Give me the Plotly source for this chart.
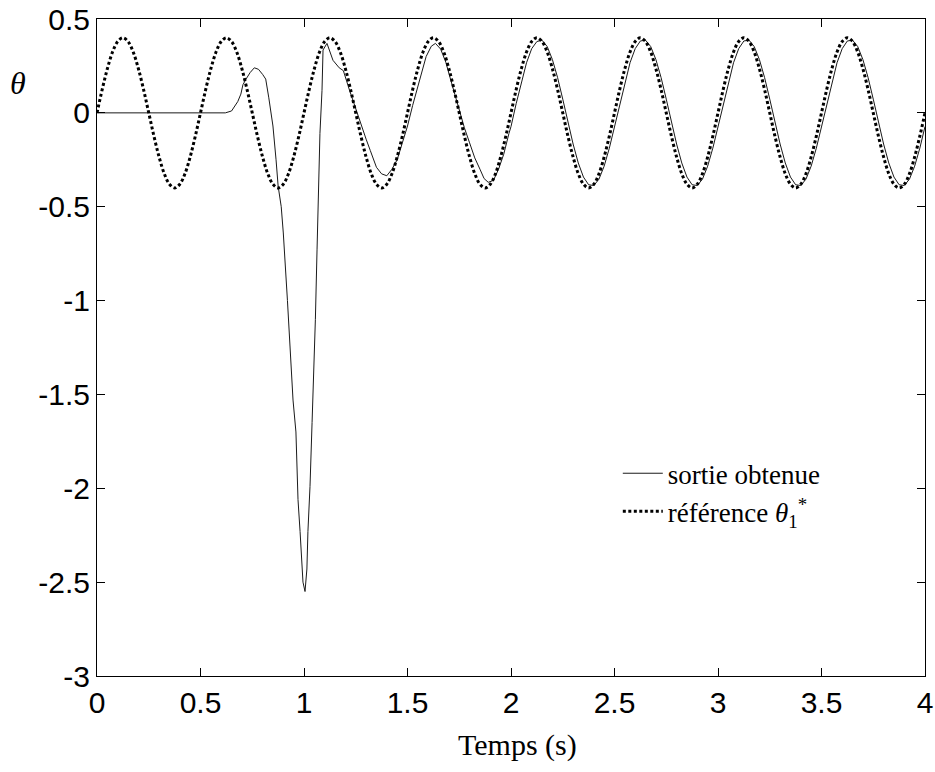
import plotly.graph_objects as go

t_ref = [round(i * 0.025, 3) for i in range(161)]
theta_ref = [
    0.000, 0.124, 0.235, 0.324, 0.380, 0.400, 0.380, 0.324, 0.235, 0.124,
    0.000, -0.124, -0.235, -0.324, -0.380, -0.400, -0.380, -0.324, -0.235, -0.124,
    0.000, 0.124, 0.235, 0.324, 0.380, 0.400, 0.380, 0.324, 0.235, 0.124,
    0.000, -0.124, -0.235, -0.324, -0.380, -0.400, -0.380, -0.324, -0.235, -0.124,
    0.000, 0.124, 0.235, 0.324, 0.380, 0.400, 0.380, 0.324, 0.235, 0.124,
    0.000, -0.124, -0.235, -0.324, -0.380, -0.400, -0.380, -0.324, -0.235, -0.124,
    0.000, 0.124, 0.235, 0.324, 0.380, 0.400, 0.380, 0.324, 0.235, 0.124,
    0.000, -0.124, -0.235, -0.324, -0.380, -0.400, -0.380, -0.324, -0.235, -0.124,
    0.000, 0.124, 0.235, 0.324, 0.380, 0.400, 0.380, 0.324, 0.235, 0.124,
    0.000, -0.124, -0.235, -0.324, -0.380, -0.400, -0.380, -0.324, -0.235, -0.124,
    0.000, 0.124, 0.235, 0.324, 0.380, 0.400, 0.380, 0.324, 0.235, 0.124,
    0.000, -0.124, -0.235, -0.324, -0.380, -0.400, -0.380, -0.324, -0.235, -0.124,
    0.000, 0.124, 0.235, 0.324, 0.380, 0.400, 0.380, 0.324, 0.235, 0.124,
    0.000, -0.124, -0.235, -0.324, -0.380, -0.400, -0.380, -0.324, -0.235, -0.124,
    0.000, 0.124, 0.235, 0.324, 0.380, 0.400, 0.380, 0.324, 0.235, 0.124,
    0.000, -0.124, -0.235, -0.324, -0.380, -0.400, -0.380, -0.324, -0.235, -0.124,
    0.000,
]

# Obtained output
t_out = [
    0.000, 0.620, 0.650, 0.680, 0.695, 0.705, 0.720, 0.740, 0.760, 0.780,
    0.800, 0.815, 0.830, 0.850, 0.865, 0.875, 0.890, 0.900, 0.920, 0.947,
    0.961, 0.971, 0.981, 0.990, 0.995, 1.005, 1.010, 1.014, 1.019, 1.029,
    1.039, 1.043, 1.055, 1.063, 1.068, 1.077, 1.087, 1.092, 1.111, 1.140,
    1.170, 1.190, 1.220, 1.250, 1.270, 1.300, 1.320, 1.350, 1.375, 1.400,
    1.425, 1.450, 1.475, 1.500, 1.525, 1.545, 1.570, 1.590, 1.615, 1.635,
    1.660, 1.685, 1.705, 1.730, 1.750, 1.775, 1.800, 1.825, 1.850, 1.870,
    1.890, 1.915, 1.940, 1.965, 1.990,
    2.000, 2.025, 2.050, 2.075, 2.100, 2.125, 2.150, 2.175, 2.200, 2.225,
    2.250, 2.275, 2.300, 2.325, 2.350, 2.375, 2.400, 2.425, 2.450, 2.475,
    2.500, 2.525, 2.550, 2.575, 2.600, 2.625, 2.650, 2.675, 2.700, 2.725,
    2.750, 2.775, 2.800, 2.825, 2.850, 2.875, 2.900, 2.925, 2.950, 2.975,
    3.000, 3.025, 3.050, 3.075, 3.100, 3.125, 3.150, 3.175, 3.200, 3.225,
    3.250, 3.275, 3.300, 3.325, 3.350, 3.375, 3.400, 3.425, 3.450, 3.475,
    3.500, 3.525, 3.550, 3.575, 3.600, 3.625, 3.650, 3.675, 3.700, 3.725,
    3.750, 3.775, 3.800, 3.825, 3.850, 3.875, 3.900, 3.925, 3.950, 3.975,
    4.000,
]
theta_out = [
    0.000, 0.000, 0.010, 0.060, 0.100, 0.150, 0.180, 0.215, 0.240, 0.232,
    0.205, 0.180, 0.080, -0.070, -0.250, -0.390, -0.500, -0.640, -1.000, -1.530,
    -1.700, -2.060, -2.230, -2.410, -2.500, -2.550, -2.500, -2.430, -2.230, -1.990,
    -1.650, -1.530, -1.100, -0.730, -0.460, -0.110, 0.120, 0.335, 0.370, 0.280,
    0.240, 0.225, 0.120, 0.020, -0.040, -0.140, -0.200, -0.290, -0.325, -0.335,
    -0.300, -0.250, -0.160, -0.070, 0.040, 0.120, 0.230, 0.300, 0.355, 0.370,
    0.340, 0.270, 0.190, 0.090, 0.016, -0.080, -0.160, -0.240, -0.300, -0.350,
    -0.370, -0.360, -0.300, -0.220, -0.110,
    -0.073, 0.049, 0.166, 0.267, 0.342, 0.380, 0.387, 0.353, 0.284, 0.188,
    0.073, -0.049, -0.166, -0.267, -0.342, -0.383, -0.387, -0.353, -0.284, -0.188,
    -0.073, 0.049, 0.166, 0.267, 0.342, 0.383, 0.387, 0.353, 0.284, 0.188,
    0.073, -0.049, -0.166, -0.267, -0.342, -0.383, -0.387, -0.353, -0.284, -0.188,
    -0.073, 0.049, 0.166, 0.267, 0.342, 0.383, 0.387, 0.353, 0.284, 0.188,
    0.073, -0.049, -0.166, -0.267, -0.342, -0.383, -0.387, -0.353, -0.284, -0.188,
    -0.073, 0.049, 0.166, 0.267, 0.342, 0.383, 0.387, 0.353, 0.284, 0.188,
    0.073, -0.049, -0.166, -0.267, -0.342, -0.383, -0.387, -0.353, -0.284, -0.188,
    -0.073,
]

x_ticks = [0, 0.5, 1, 1.5, 2, 2.5, 3, 3.5, 4]
x_ticktext = ["0", "0.5", "1", "1.5", "2", "2.5", "3", "3.5", "4"]
y_ticks = [0.5, 0, -0.5, -1, -1.5, -2, -2.5, -3]
y_ticktext = ["0.5", "0", "-0.5", "-1", "-1.5", "-2", "-2.5", "-3"]

SERIF = "Liberation Serif, Times New Roman, serif"
SANS = "Liberation Sans, Arial, sans-serif"

fig = go.Figure()
fig.add_trace(go.Scatter(
    x=t_out, y=theta_out, mode="lines", name="sortie obtenue",
    legendgroup="a",
    line=dict(color="#1a1a1a", width=1),
))
fig.add_trace(go.Scatter(
    x=t_ref, y=theta_ref, mode="lines", line_shape="spline",
    legendgroup="b",
    name="référence <i>θ</i><sub>1</sub><sup>*</sup>",
    line=dict(color="black", width=3, dash="3px,2.5px"),
))

fig.update_layout(
    width=935, height=772,
    margin=dict(l=97, r=10, t=19, b=96),
    plot_bgcolor="white", paper_bgcolor="white",
    showlegend=True,
    legend=dict(
        x=0.629, y=0.279, xanchor="left", yanchor="middle",
        font=dict(family=SERIF, size=27, color="black"),
        bgcolor="rgba(0,0,0,0)", itemwidth=40, tracegroupgap=0,
    ),
    xaxis=dict(
        range=[0, 4], tickvals=x_ticks, ticktext=x_ticktext,
        ticks="inside", ticklen=8, tickcolor="black", automargin=False,
        showline=True, linecolor="black", linewidth=1, mirror="ticks",
        showgrid=False, zeroline=False,
        tickfont=dict(family=SANS, size=30, color="black"),
    ),
    yaxis=dict(
        range=[-3, 0.5], tickvals=y_ticks, ticktext=y_ticktext,
        ticks="inside", ticklen=8, tickcolor="black", automargin=False,
        showline=True, linecolor="black", linewidth=1, mirror="ticks",
        showgrid=False, zeroline=False,
        tickfont=dict(family=SANS, size=30, color="black"),
    ),
    annotations=[
        dict(text="<i>θ</i>", xref="paper", yref="paper",
             x=-0.095, y=0.903, xanchor="center", yanchor="middle",
             showarrow=False, font=dict(family=SERIF, size=32, color="black")),
        dict(text="Temps (s)", xref="paper", yref="paper",
             x=0.508, y=-0.105, xanchor="center", yanchor="middle",
             showarrow=False, font=dict(family=SERIF, size=30, color="black")),
    ],
)

fig.write_html("out.html")
